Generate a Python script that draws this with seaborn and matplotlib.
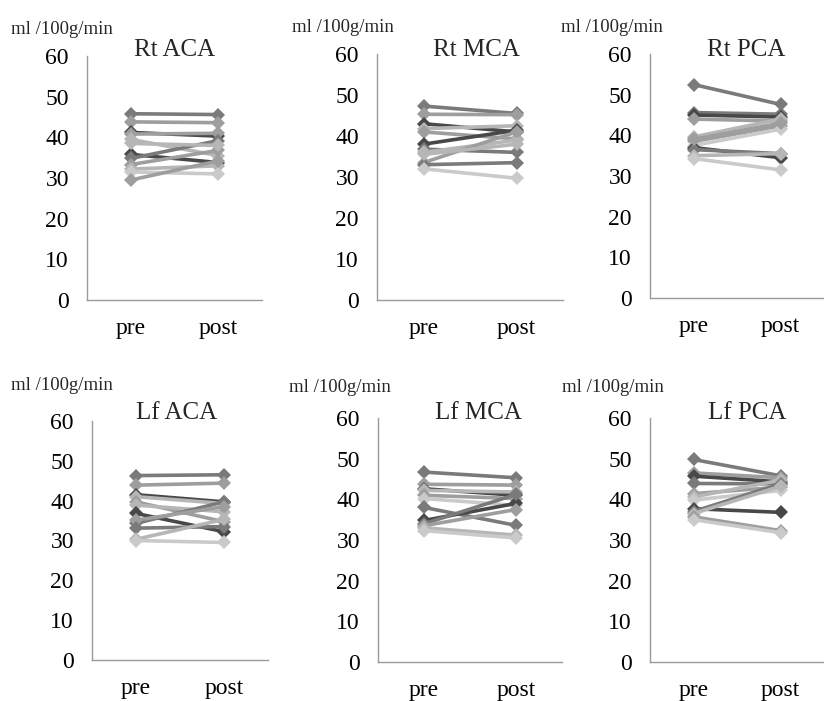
import numpy as np
import pandas as pd
import matplotlib
matplotlib.use("Agg")
import matplotlib.pyplot as plt
import seaborn as sns

# ---------------- data ----------------
titles = ["Rt ACA", "Rt MCA", "Rt PCA", "Lf ACA", "Lf MCA", "Lf PCA"]
phases = ["pre", "post"]
y_ticks = [0, 10, 20, 30, 40, 50, 60]
unit_label = "ml /100g/min"

rt_aca_pre = [45.8, 43.8, 41.2, 40.8, 39.5, 35.8, 34.8, 33.3, 32.2, 31.5, 29.5, 38.5]
rt_aca_post = [45.6, 43.6, 40.3, 41.0, 35.5, 33.8, 39.2, 36.8, 33.0, 31.0, 34.2, 38.0]

rt_mca_pre = [47.3, 45.3, 43.0, 41.8, 41.0, 38.0, 36.8, 36.0, 33.5, 33.0, 32.0, 35.5]
rt_mca_post = [45.5, 45.2, 41.0, 42.5, 39.3, 41.4, 36.0, 39.0, 41.0, 33.5, 29.7, 38.0]

rt_pca_pre = [52.5, 45.6, 45.0, 44.0, 39.6, 38.5, 37.5, 37.0, 36.5, 35.0, 34.3, 39.0]
rt_pca_post = [47.6, 45.2, 44.5, 43.5, 44.0, 42.3, 41.5, 34.5, 35.5, 35.5, 31.5, 43.0]

lf_aca_pre = [46.3, 43.9, 41.5, 41.0, 39.7, 38.9, 36.8, 34.3, 35.1, 33.1, 30.3, 30.0]
lf_aca_post = [46.5, 44.4, 39.7, 39.3, 34.7, 37.2, 32.2, 39.7, 38.5, 33.5, 35.3, 29.5]

lf_mca_pre = [46.7, 43.7, 42.6, 42.2, 41.0, 40.2, 38.0, 34.8, 34.0, 33.5, 33.0, 32.3]
lf_mca_post = [45.3, 43.5, 41.0, 41.8, 40.2, 38.5, 33.6, 39.0, 41.2, 37.5, 31.2, 30.5]

lf_pca_pre = [49.8, 46.5, 45.7, 43.9, 41.4, 40.6, 39.8, 37.7, 37.0, 36.5, 35.7, 35.0]
lf_pca_post = [45.8, 45.3, 44.3, 43.8, 43.0, 44.7, 42.2, 36.8, 43.8, 43.2, 32.3, 31.8]

panels = [
    (rt_aca_pre, rt_aca_post),
    (rt_mca_pre, rt_mca_post),
    (rt_pca_pre, rt_pca_post),
    (lf_aca_pre, lf_aca_post),
    (lf_mca_pre, lf_mca_post),
    (lf_pca_pre, lf_pca_post),
]

# ---------------- style ----------------
D, M, L, V, W = "#484848", "#7a7a7a", "#9e9e9e", "#b6b6b6", "#cacaca"
shades = [
    [M, L, D, L, V, D, M, L, V, W, L, V],
    [M, L, D, V, L, D, M, V, L, M, W, V],
    [M, M, D, L, V, L, W, D, M, V, W, L],
    [M, L, D, V, L, V, D, M, L, M, V, W],
    [M, L, D, V, L, W, M, D, M, L, V, W],
    [M, L, D, M, L, V, W, D, M, V, L, W],
]

FW, FH = 824, 701
# axes boxes in pixels: left, top, right, bottom
boxes = [
    (87, 56, 262, 300),
    (377, 54, 563, 300),
    (650, 54, 824, 298),
    (92, 421, 268, 660),
    (378, 418, 562, 662),
    (650, 418, 824, 662),
]
xlims = [(-0.5, 1.5), (-0.5, 1.5), (-0.5, 1.5), (-0.5, 1.5), (-0.5, 1.5), (-0.5, 1.37)]
unit_pos = [(11, 30), (292, 27), (561, 27), (11, 386), (289, 387), (562, 387)]
title_pos = [(175, 50), (476, 50), (746, 50), (177, 413), (478, 413), (747, 413)]

sns.set_theme(style="white")
plt.rcParams["font.family"] = ["Liberation Serif", "DejaVu Serif"]

fig = plt.figure(figsize=(FW / 100, FH / 100), dpi=100)
fig.patch.set_facecolor("white")

axis_col = "#9a9a9a"

for i, ((pre, post), box) in enumerate(zip(panels, boxes)):
    l, t, r, b = box
    ax = fig.add_axes([l / FW, 1 - b / FH, (r - l) / FW, (b - t) / FH])
    n = len(pre)
    subj = [f"s{k}" for k in range(n)]
    df = pd.DataFrame({
        "subject": subj + subj,
        "phase": [phases[0]] * n + [phases[1]] * n,
        "xpos": [0] * n + [1] * n,
        "value": list(pre) + list(post),
    })
    pal = {s: c for s, c in zip(subj, shades[i])}
    sns.lineplot(data=df, x="xpos", y="value", hue="subject", palette=pal,
                 marker="D", markersize=7.5, markeredgewidth=0, linewidth=2.6,
                 legend=False, errorbar=None, ax=ax, sort=False)
    ax.set_xlim(*xlims[i])
    ax.set_ylim(0, 60)
    ax.set_yticks(y_ticks)
    ax.set_yticklabels([str(v) for v in y_ticks], fontsize=17)
    ax.set_xticks([0, 1])
    ax.set_xticklabels(phases, fontsize=17)
    ax.set_xticks([-0.5, 0.5, 1.5], minor=True)
    ax.tick_params(axis="x", which="major", length=0, pad=13, colors="black")
    ax.tick_params(axis="x", which="minor", length=4, width=0.8, color=axis_col, direction="out")
    ax.tick_params(axis="y", which="major", length=5, width=0.8, color=axis_col,
                   direction="out", pad=8, labelcolor="black")
    ax.set_xlabel("")
    ax.set_ylabel("")
    for side in ["top", "right"]:
        ax.spines[side].set_visible(False)
    for side in ["left", "bottom"]:
        ax.spines[side].set_color(axis_col)
        ax.spines[side].set_linewidth(1.0)
    ax.set_facecolor("white")
    ax.grid(False)

    ux, uy = unit_pos[i]
    fig.text(ux / FW, 1 - uy / FH, unit_label, ha="left", va="center", fontsize=13.5)
    tx, ty = title_pos[i]
    fig.text(tx / FW, 1 - ty / FH, titles[i], ha="center", va="center", fontsize=18)

fig.savefig("out.png", dpi=100, facecolor="white")
